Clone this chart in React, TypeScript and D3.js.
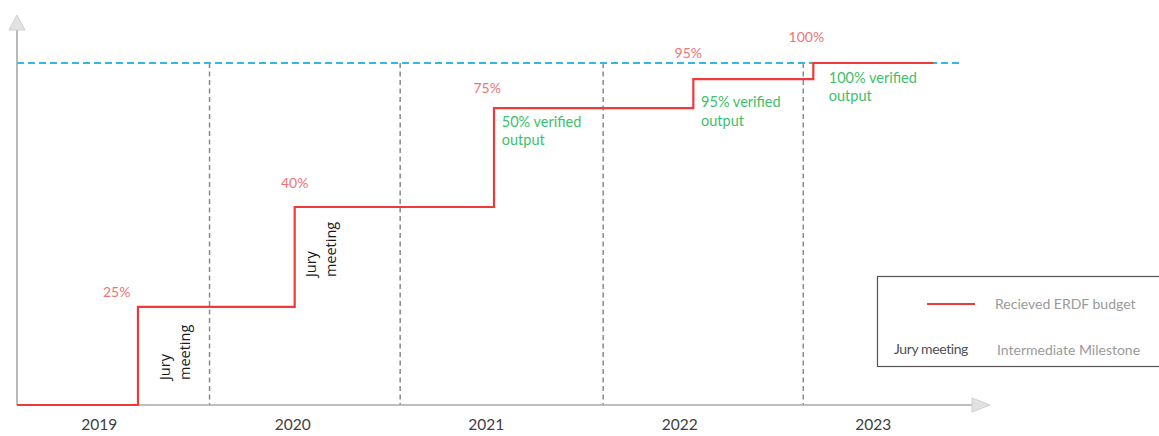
import React from "react";
import * as d3 from "d3";

// ---- data (time in decimal years, value in % of full budget scale) ----
const years = ["2019", "2020", "2021", "2022", "2023"];
const yearLabelT = [2019.5, 2020.5, 2021.5, 2022.5, 2023.5];

// red step line: times where budget changes and the level it reaches
const stepT = [2019.075, 2019.7, 2020.51, 2021.54, 2022.57, 2023.19, 2023.81];
const stepLevel = [0, 28.7, 57.9, 86.8, 95.3, 100, 100];

// percentage annotations
const pctLabels = ["25%", "40%", "75%", "95%", "100%"];
const pctLabelT = [2019.59, 2020.51, 2021.505, 2022.544, 2023.154];
const pctLabelV = [31.6, 63.5, 91.2, 101.5, 106.1];

// verified output annotations
const verifiedLabels = ["50% verified", "95% verified", "100% verified"];
const verifiedT = [2021.58, 2022.61, 2023.27];
const verifiedV = [81.3, 87.1, 94.2];

// jury meetings (rotated annotations)
const juryT = [2019.865, 2020.62];
const juryV = [7.3, 37.4];

// intermediate milestones (dashed verticals)
const milestoneT = [2020.07, 2021.055, 2022.104, 2023.138];

const targetLevel = 100;
const blueEndT = 2023.96;

const W = 1159;
const H = 436;

export default function App() {
  const x = d3.scaleLinear().domain([2019.075, 2024.01]).range([17, 972]);
  const y = d3.scaleLinear().domain([0, 100]).range([405, 63]);

  const pts: [number, number][] = stepT.map((t, i) => [t, stepLevel[i]]);
  const line = d3
    .line<[number, number]>()
    .x((d) => x(d[0]))
    .y((d) => y(d[1]))
    .curve(d3.curveStepAfter);

  const x0 = x.range()[0];
  const x1 = x.range()[1];
  const yb = y(0);
  const axisColor = "#a8a8a8";
  const lato = "Lato, 'Open Sans', sans-serif";

  return (
    <svg
      width={W}
      height={H}
      style={{ position: "absolute", left: 0, top: 0, display: "block", background: "#fff" }}
    >
      {/* milestones */}
      {milestoneT.map((t, i) => (
        <line
          key={"m" + i}
          x1={x(t)}
          x2={x(t)}
          y1={y(targetLevel)}
          y2={yb}
          stroke="#8a8a8a"
          strokeWidth={1.5}
          strokeDasharray="5,3.5"
        />
      ))}
      {/* target dashed line */}
      <line
        x1={x0}
        x2={x(blueEndT)}
        y1={y(targetLevel)}
        y2={y(targetLevel)}
        stroke="#35b6ea"
        strokeWidth={1.8}
        strokeDasharray="7,4"
      />
      {/* axes */}
      <line x1={x0} x2={x0} y1={yb} y2={30} stroke={axisColor} strokeWidth={1.6} />
      <path
        d={`M${x0},15 L${x0 + 8},30 L${x0 - 8},30 Z`}
        fill="#e2e2e2"
        stroke="#d0d0d0"
        strokeWidth={1}
      />
      <line x1={x0} x2={x1} y1={yb} y2={yb} stroke={axisColor} strokeWidth={1.6} />
      <path
        d={`M${x1},${yb - 7} L${x1 + 18},${yb} L${x1},${yb + 7} Z`}
        fill="#e2e2e2"
        stroke="#d0d0d0"
        strokeWidth={1}
      />
      {/* red step line */}
      <path d={line(pts) || ""} fill="none" stroke="#f03a3a" strokeWidth={2.2} />

      {/* year labels */}
      {years.map((yr, i) => (
        <text
          key={"y" + i}
          x={x(yearLabelT[i])}
          y={430}
          textAnchor="middle"
          fontFamily={lato}
          fontSize={15.5}
          fill="#404040"
        >
          {yr}
        </text>
      ))}

      {/* percentage labels */}
      {pctLabels.map((p, i) => (
        <text
          key={"p" + i}
          x={x(pctLabelT[i])}
          y={y(pctLabelV[i])}
          textAnchor="middle"
          fontFamily={lato}
          fontSize={14}
          fill="#f07474"
        >
          {p}
        </text>
      ))}

      {/* verified output labels */}
      {verifiedLabels.map((v, i) => (
        <text
          key={"v" + i}
          x={x(verifiedT[i])}
          y={y(verifiedV[i])}
          fontFamily={lato}
          fontSize={14.5}
          fill="#3dbf6b"
        >
          <tspan x={x(verifiedT[i])}>{v}</tspan>
          <tspan x={x(verifiedT[i])} dy={18.5}>
            output
          </tspan>
        </text>
      ))}

      {/* jury meeting rotated labels */}
      {juryT.map((t, i) => (
        <g key={"j" + i} transform={`translate(${x(t)},${y(juryV[i])}) rotate(-90)`}>
          <text x={0} y={0} fontFamily="'Open Sans', sans-serif" fontSize={14.5} fill="#1a1a1a">
            Jury
          </text>
          <text x={0} y={20} fontFamily="'Open Sans', sans-serif" fontSize={14.5} fill="#1a1a1a">
            meeting
          </text>
        </g>
      ))}

      {/* legend */}
      <rect x={877.5} y={276.5} width={300} height={90} fill="#fff" stroke="#555" strokeWidth={1.2} />
      <line x1={927} x2={975} y1={304} y2={304} stroke="#f03a3a" strokeWidth={2.2} />
      <text x={995} y={309} fontFamily={lato} fontSize={14} fill="#9a9a9a">
        Recieved ERDF budget
      </text>
      <text x={894} y={354} fontFamily={lato} fontSize={14} fill="#505050" letterSpacing={-0.4}>
        Jury meeting
      </text>
      <text x={997} y={355} fontFamily={lato} fontSize={14} fill="#9a9a9a">
        Intermediate Milestone
      </text>
    </svg>
  );
}
